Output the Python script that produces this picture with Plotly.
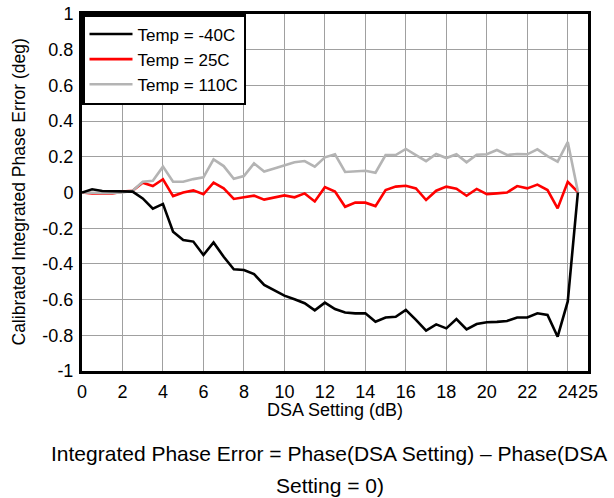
import plotly.graph_objects as go

dsa_db = [i * 0.5 for i in range(50)]

temp_m40 = [0, 0.018, 0.008, 0.008, 0.008, 0.005, -0.033, -0.09, -0.064, -0.22,
            -0.266, -0.275, -0.35, -0.28, -0.36, -0.43, -0.434, -0.457, -0.518, -0.55,
            -0.578, -0.598, -0.62, -0.66, -0.617, -0.653, -0.672, -0.677, -0.677, -0.724,
            -0.70, -0.696, -0.658, -0.714, -0.774, -0.739, -0.761, -0.709, -0.767, -0.737,
            -0.727, -0.725, -0.72, -0.70, -0.70, -0.677, -0.686, -0.808, -0.61, 0.0]

temp_25 = [0, -0.005, -0.005, -0.005, 0.005, 0.01, 0.055, 0.036, 0.074, -0.02,
           0.0, 0.012, -0.01, 0.055, 0.023, -0.036, -0.027, -0.018, -0.04, -0.029,
           -0.016, -0.027, -0.005, -0.05, 0.03, 0.005, -0.08, -0.057, -0.057, -0.076,
           0.014, 0.033, 0.038, 0.023, -0.042, 0.01, 0.033, 0.021, -0.018, 0.02,
           -0.009, -0.005, 0.0, 0.036, 0.023, 0.044, 0.014, -0.089, 0.06, 0.003]

temp_110 = [0, -0.003, -0.003, -0.003, 0.0, 0.01, 0.06, 0.066, 0.145, 0.06,
            0.06, 0.075, 0.085, 0.186, 0.148, 0.077, 0.092, 0.163, 0.117, 0.134,
            0.15, 0.169, 0.176, 0.145, 0.197, 0.214, 0.115, 0.117, 0.122, 0.111,
            0.21, 0.21, 0.244, 0.21, 0.176, 0.216, 0.193, 0.214, 0.169, 0.212,
            0.214, 0.238, 0.21, 0.216, 0.214, 0.242, 0.204, 0.173, 0.283, 0.005]

x_tickvals = [0, 2, 4, 6, 8, 10, 12, 14, 16, 18, 20, 22, 24, 25]
x_ticktext = ["0", "2", "4", "6", "8", "10", "12", "14", "16", "18", "20", "22", "24", "25"]
y_tickvals = [1, 0.8, 0.6, 0.4, 0.2, 0, -0.2, -0.4, -0.6, -0.8, -1]
y_ticktext = ["1", "0.8", "0.6", "0.4", "0.2", "0", "-0.2", "-0.4", "-0.6", "-0.8", "-1"]

FONT = "Arial, Liberation Sans, sans-serif"

fig = go.Figure()
fig.add_trace(go.Scatter(x=dsa_db, y=temp_25, mode="lines", name="Temp = 25C",
                         line=dict(color="#ff0000", width=2.6), legendrank=2))
fig.add_trace(go.Scatter(x=dsa_db, y=temp_110, mode="lines", name="Temp = 110C",
                         line=dict(color="#b4b4b4", width=2.6), legendrank=3))
fig.add_trace(go.Scatter(x=dsa_db, y=temp_m40, mode="lines", name="Temp = -40C",
                         line=dict(color="#000000", width=2.6), legendrank=1))

fig.update_layout(
    width=614, height=498,
    margin=dict(l=82, r=26, t=14, b=127, autoexpand=False),
    paper_bgcolor="white", plot_bgcolor="white",
    font=dict(family=FONT, size=18, color="black"),
    showlegend=True,
    legend=dict(x=0, y=1, xanchor="left", yanchor="top",
                bgcolor="white", bordercolor="black", borderwidth=2.5,
                font=dict(size=17), tracegroupgap=0, itemwidth=43),
    xaxis=dict(range=[0, 25], tickvals=x_tickvals, ticktext=x_ticktext,
               showgrid=True, gridcolor="#a0a0a0", gridwidth=1,
               showline=True, linecolor="black", linewidth=3, mirror=True,
               ticks="", zeroline=False, tickfont=dict(size=18), tickangle=0,
               automargin=False, ticklabelstandoff=2, ticklabeloverflow="allow"),
    yaxis=dict(range=[-1, 1], tickvals=y_tickvals, ticktext=y_ticktext,
               showgrid=True, gridcolor="#a0a0a0", gridwidth=1,
               showline=True, linecolor="black", linewidth=3, mirror=True,
               ticks="", zeroline=False, tickfont=dict(size=18),
               automargin=False, ticklabelstandoff=2, ticklabeloverflow="allow"),
    annotations=[
        dict(text="Calibrated Integrated Phase Error (deg)", textangle=-90,
             x=(18 - 82) / 506, y=0.5, xref="paper", yref="paper",
             xanchor="center", yanchor="middle",
             showarrow=False, font=dict(size=17.5)),
        dict(text="DSA Setting (dB)", x=0.5, y=(371 - 410) / 357,
             xref="paper", yref="paper", xanchor="center", yanchor="middle",
             showarrow=False, font=dict(size=18)),
        dict(text="Integrated Phase Error = Phase(DSA Setting) \u2013 Phase(DSA",
             x=(329 - 82) / 506, y=(371 - 453) / 357,
             xref="paper", yref="paper", xanchor="center", yanchor="middle",
             showarrow=False, font=dict(size=21)),
        dict(text="Setting = 0)",
             x=(330 - 82) / 506, y=(371 - 485) / 357,
             xref="paper", yref="paper", xanchor="center", yanchor="middle",
             showarrow=False, font=dict(size=21)),
    ],
)

fig.write_html("out.html", config={"displayModeBar": False},
               post_script="document.body.style.margin='0';")
